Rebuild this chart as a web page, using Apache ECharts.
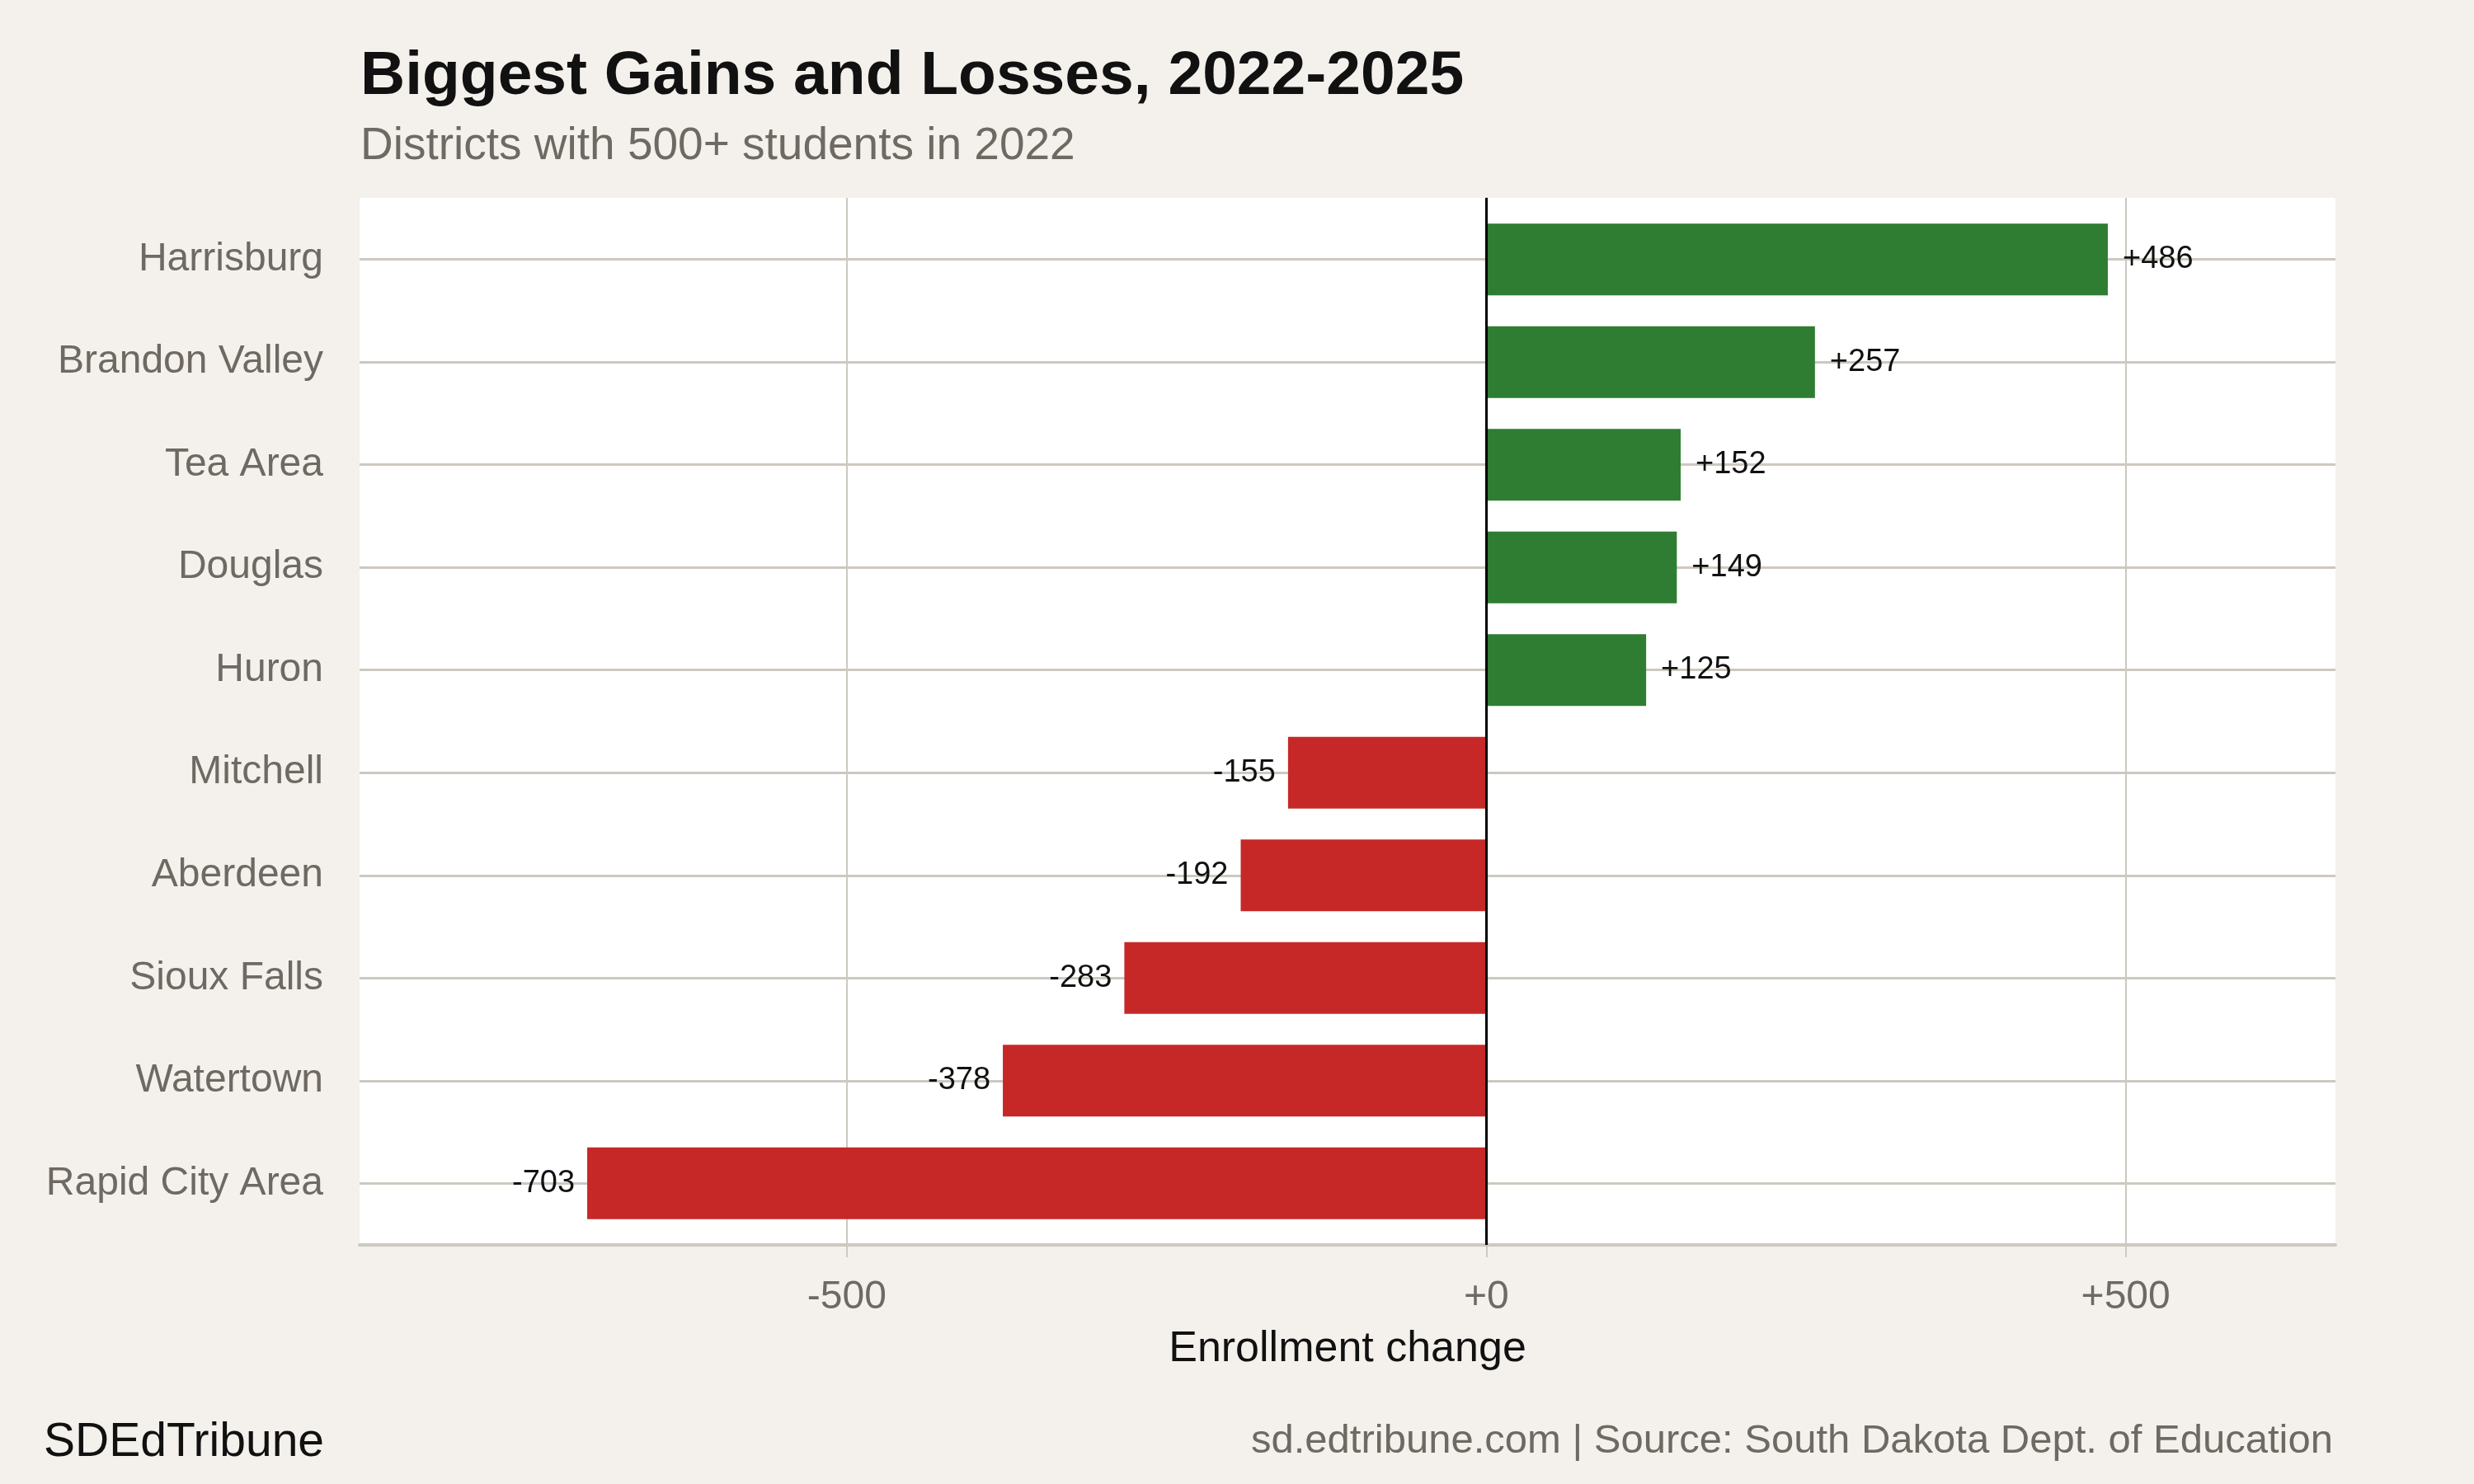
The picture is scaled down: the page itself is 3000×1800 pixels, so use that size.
<!DOCTYPE html>
<html>
<head>
<meta charset="utf-8">
<style>
html,body{margin:0;padding:0;background:#f4f1ec;}
#chart{width:3000px;height:1800px;}
</style>
<script src="https://cdn.jsdelivr.net/npm/echarts@6/dist/echarts.min.js"></script>
</head>
<body>
<div id="chart"></div>
<script>
const districts = ['Harrisburg','Brandon Valley','Tea Area','Douglas','Huron','Mitchell','Aberdeen','Sioux Falls','Watertown','Rapid City Area'];
const changes = [486, 257, 152, 149, 125, -155, -192, -283, -378, -703];
const xTicks = [-500, 0, 500];
const xMin = -881, xMax = 664;

const FONT = '"Liberation Sans", Arial, Helvetica, sans-serif';
const GRID_C = '#cdc8c0';
const gridLeft = 436, gridRight = 168, gridTop = 240, gridH = 1270;
const unit = gridH / (districts.length - 1 + 1.2);
const barGridTop = gridTop + 0.1 * unit;
const barGridH = unit * districts.length;

const chart = echarts.init(document.getElementById('chart'), null, {renderer: 'canvas'});
const fmt = v => (v >= 0 ? '+' : '') + v;

chart.setOption({
  backgroundColor: '#f4f1ec',
  animation: false,
  title: [
    {text: 'Biggest Gains and Losses, 2022-2025', left: 432, top: 51,
     textStyle: {fontFamily: FONT, fontWeight: 'bold', fontSize: 75, color: '#111'}},
    {text: 'Districts with 500+ students in 2022', left: 432, top: 145,
     textStyle: {fontFamily: FONT, fontWeight: 'normal', fontSize: 55, color: '#6e6962'}},
    {text: 'SDEdTribune', left: 48, top: 1717,
     textStyle: {fontFamily: FONT, fontWeight: 'normal', fontSize: 57, color: '#111'}},
    {text: 'sd.edtribune.com | Source: South Dakota Dept. of Education', right: 166, top: 1719,
     textStyle: {fontFamily: FONT, fontWeight: 'normal', fontSize: 49, color: '#6e6962'}}
  ],
  grid: [
    {left: gridLeft, right: gridRight, top: gridTop, height: gridH, show: true,
     backgroundColor: '#ffffff', borderWidth: 0, containLabel: false},
    {left: gridLeft, right: gridRight, top: barGridTop, height: barGridH, show: false, containLabel: false}
  ],
  xAxis: [
    {type: 'value', gridIndex: 0, min: xMin, max: xMax,
     name: 'Enrollment change', nameLocation: 'middle', nameGap: 101,
     nameTextStyle: {fontFamily: FONT, fontSize: 52, color: '#111'},
     axisLine: {show: true, onZero: false, lineStyle: {color: GRID_C, width: 4}},
     axisTick: {show: true, length: 15, customValues: xTicks, lineStyle: {color: GRID_C, width: 2}},
     axisLabel: {show: true, customValues: xTicks, formatter: fmt, margin: 40,
                 fontFamily: FONT, fontSize: 48, color: '#6e6962'},
     splitLine: {show: true, lineStyle: {color: GRID_C, width: 2}}},
    {type: 'value', gridIndex: 1, min: xMin, max: xMax, show: false,
     splitLine: {show: false}}
  ],
  yAxis: [
    {type: 'value', gridIndex: 0, min: -0.6, max: districts.length - 1 + 0.6, inverse: true,
     axisLine: {show: true, lineStyle: {color: GRID_C, width: 2}},
     axisTick: {show: true, length: 15, customValues: districts.map((d, i) => i), lineStyle: {color: GRID_C, width: 3}},
     axisLabel: {show: false},
     splitLine: {show: true, lineStyle: {color: GRID_C, width: 3}}},
    {type: 'category', gridIndex: 1, data: districts, inverse: true,
     axisLine: {show: false}, axisTick: {show: false}, splitLine: {show: false},
     axisLabel: {show: true, margin: 44, fontFamily: FONT, fontSize: 48, color: '#6e6962',
                 padding: [8, 0, 0, 0]}}
  ],
  series: [
    {type: 'bar', xAxisIndex: 1, yAxisIndex: 1, barWidth: '70%',
     data: changes.map(v => ({
       value: v,
       itemStyle: {color: v >= 0 ? '#2e7d32' : '#c62828'},
       label: {show: true, position: v >= 0 ? 'right' : 'left', distance: v >= 0 ? 18 : 15,
               formatter: () => fmt(v), fontFamily: FONT, fontSize: 38, color: '#111',
               padding: [6, 0, 0, 0]}
     })),
     z: 3},
    {type: 'scatter', xAxisIndex: 0, yAxisIndex: 0, data: [], z: 5,
     markLine: {silent: true, symbol: ['none', 'none'], label: {show: false},
                lineStyle: {color: '#000', width: 3, type: 'solid'},
                data: [{xAxis: 0}], z: 10}}
  ]
});
</script>
</body>
</html>
